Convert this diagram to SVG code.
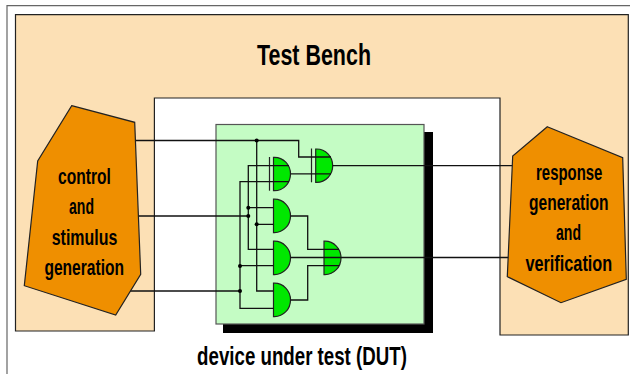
<svg xmlns="http://www.w3.org/2000/svg" width="630" height="374" viewBox="0 0 630 374">
<defs><style>
.t{font-family:"Liberation Sans",sans-serif;font-weight:bold;fill:#000;text-anchor:middle}
.b{font-size:22px}.l{font-size:30px}.d{font-size:25px}
.w{fill:none;stroke:#111;stroke-width:1.3}
.g{fill:#00e800;stroke:#222;stroke-width:1.2}
.p{fill:#ef8f00;stroke:#222;stroke-width:1.2}
.x{fill:none;stroke:#222;stroke-width:1.2}
</style>
<path id="gate" d="M0 0H1A16 16.7 0 0 1 1 33.4H0Z"/>
</defs>
<rect width="630" height="374" fill="#fff"/>
<path d="M7 374V5.7H630" fill="none" stroke="#666" stroke-width="1.2"/>
<g id="testbench">
<path d="M15.5 14.7H628.3V335H500V98H154.4V331H15.5Z" fill="#fce0b5" stroke="#222" stroke-width="1.2"/>
<text class="t l" transform="translate(314 65) scale(.715 1)">Test Bench</text>
</g>
<g id="dut">
<rect x="223" y="132" width="210" height="201" fill="#000"/>
<rect x="216" y="124.5" width="208" height="199.5" fill="#c4fcc4" stroke="#555" stroke-width="1.2"/>
<text class="t d" transform="translate(302 365) scale(.748 1)">device under test (DUT)</text>
</g>
<g id="gate1"><use href="#gate" class="g" x="273.5" y="157.3"/><path class="x" d="M269.5 157V190.7"/></g>
<g id="gate2"><use href="#gate" class="g" x="273.5" y="199.2"/></g>
<g id="gate3"><use href="#gate" class="g" x="273.5" y="241.2"/></g>
<g id="gate4"><use href="#gate" class="g" x="273.5" y="283.2"/></g>
<g id="gate5"><use href="#gate" class="g" x="315.7" y="149"/><path class="x" d="M311.5 148.5V182.3"/></g>
<g id="gate6"><use href="#gate" class="g" x="324" y="241.2"/></g>
<g id="connectors">
<path class="w" d="M135 140.5H298.7V157H331"/>
<path class="w" d="M138 216H248.3"/>
<path class="w" d="M130 291H240"/>
<path class="w" d="M256.7 140.5V291H273.5"/>
<path class="w" d="M289 165.7H248.3V249.4H273.5"/>
<path class="w" d="M289 181.7H240V308.3H273.5"/>
<path class="w" d="M248.3 207.7H273.5M256.7 224.3H273.5M240 265.7H273.5"/>
<path class="w" d="M290.5 173.8H331"/>
<path class="w" d="M332.5 165.7H513"/>
<path class="w" d="M290.5 216H307.7V249.4H339"/>
<path class="w" d="M290.5 300H307.7V265.7H339"/>
<path class="w" d="M290.5 257.5H509"/>
<g fill="#000"><circle cx="256.7" cy="140.5" r="2"/><circle cx="248.3" cy="207.7" r="2"/><circle cx="248.3" cy="216" r="2"/><circle cx="256.7" cy="224.3" r="2"/><circle cx="240" cy="266" r="2"/><circle cx="240" cy="291" r="2"/></g>
</g>
<g id="stimulus">
<path class="p" d="M71.7 105.7L134.7 122.3L140.7 274.3L115.7 315L24.3 285.7L37.7 161Z"/>
<text class="t b" transform="translate(84.5 184) scale(.71 1)">control</text>
<text class="t b" transform="translate(81.5 214) scale(.64 1)">and</text>
<text class="t b" transform="translate(84.5 245) scale(.725 1)">stimulus</text>
<text class="t b" transform="translate(84.2 275) scale(.708 1)">generation</text>
</g>
<g id="response">
<path class="p" d="M547.3 126.7L622.7 157.7L626.3 279.3L561 302.7L507.3 276.7L512.7 156Z"/>
<text class="t b" transform="translate(569.2 180.3) scale(.678 1)">response</text>
<text class="t b" transform="translate(568.8 210) scale(.708 1)">generation</text>
<text class="t b" transform="translate(568.5 240) scale(.64 1)">and</text>
<text class="t b" transform="translate(568.8 270.7) scale(.74 1)">verification</text>
</g>
</svg>
